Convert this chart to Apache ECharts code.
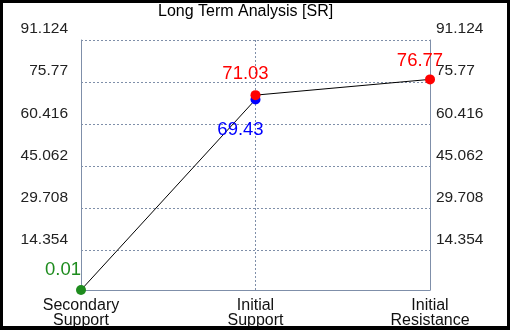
<!DOCTYPE html>
<html>
<head>
<meta charset="utf-8">
<script src="https://cdn.jsdelivr.net/npm/echarts@6/dist/echarts.min.js"></script>
<style>
  html, body { margin: 0; padding: 0; background: #000; }
  #wrap { position: relative; width: 510px; height: 330px; background: #000; overflow: hidden; }
  #chart { position: absolute; left: 3px; top: 3px; width: 504px; height: 323px; background: #fff; }
</style>
</head>
<body>
<div id="wrap"><div id="chart"></div></div>
<script>
const titleText = 'Long Term Analysis [SR]';
const categories = ['Secondary\nSupport', 'Initial\nSupport', 'Initial\nResistance'];
const pointCategories = ['Secondary\nSupport', 'Initial\nSupport', 'Initial\nSupport', 'Initial\nResistance'];
const pointValues = [0.01, 69.43, 71.03, 76.77];
const yTickLabels = [14.354, 29.708, 45.062, 60.416, 75.77, 91.124];
const yMin = 0;
const yMax = 91.124;

// styling (kept separate from data)
const pointColors = ['#1e8c1e', '#0000ff', '#ff0000', '#ff0000'];
const labelPositions = ['top', 'bottom', 'top', 'top'];
const labelOffsets = [[-18, -1], [-15, 11], [-10, -2], [-10, 1]];

const gridColor = '#7f8fa9';
const fontFamily = 'Liberation Sans, Arial, sans-serif';

const seriesData = pointValues.map((v, i) => ({
  value: [pointCategories[i], v],
  itemStyle: { color: pointColors[i] },
  label: {
    show: true,
    position: labelPositions[i],
    offset: labelOffsets[i],
    color: pointColors[i],
    fontSize: 18.5,
    fontFamily: fontFamily,
    formatter: () => String(v)
  }
}));

function yAxisCfg(pos, margin) {
  return {
    type: 'value',
    position: pos,
    min: yMin,
    max: yMax,
    axisLine: { show: true, lineStyle: { color: gridColor, width: 1 } },
    axisTick: { show: false, customValues: yTickLabels },
    axisLabel: {
      customValues: yTickLabels,
      color: '#222',
      fontSize: 15.5,
      fontFamily: fontFamily,
      margin: margin,
      verticalAlign: 'bottom',
      lineHeight: 22,
      formatter: v => String(v)
    },
    splitLine: { show: pos === 'left', lineStyle: { color: gridColor, type: [2, 2], width: 1 } }
  };
}

const chart = echarts.init(document.getElementById('chart'), null, { renderer: 'canvas' });
chart.setOption({
  animation: false,
  backgroundColor: '#fff',
  title: {
    text: titleText,
    left: 150,
    top: -4,
    textStyle: { fontSize: 16, fontWeight: 'normal', color: '#000', fontFamily: fontFamily }
  },
  grid: { left: 78, right: 77, top: 37, bottom: 36, containLabel: false, outerBoundsMode: 'none' },
  xAxis: {
    type: 'category',
    data: categories,
    boundaryGap: false,
    axisLine: { show: true, lineStyle: { color: gridColor, width: 1 } },
    axisTick: { show: false },
    axisLabel: {
      color: '#111',
      fontSize: 16,
      fontFamily: fontFamily,
      lineHeight: 15,
      margin: 8,
      interval: 0
    },
    splitLine: { show: true, lineStyle: { color: gridColor, type: [2, 2], width: 1 } }
  },
  yAxis: [yAxisCfg('left', 13), yAxisCfg('right', 6)],
  series: [{
    type: 'line',
    data: seriesData,
    symbol: 'circle',
    symbolSize: 10,
    lineStyle: { color: '#000', width: 1 },
    z: 3
  }]
});
</script>
</body>
</html>
